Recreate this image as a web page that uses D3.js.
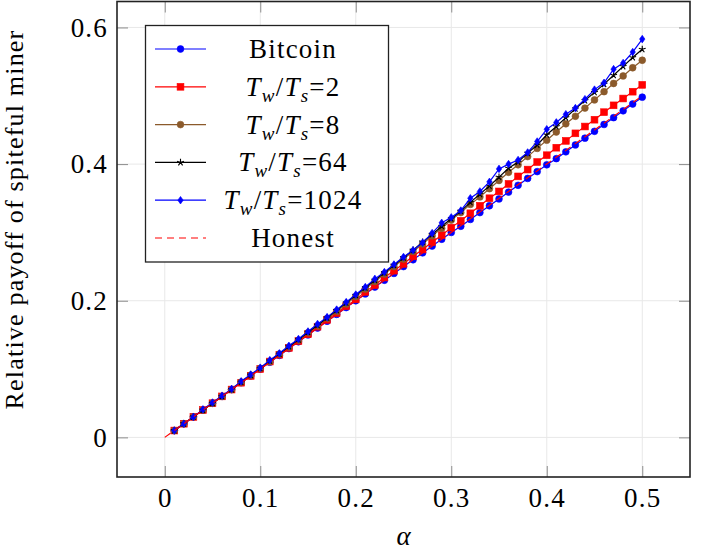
<!DOCTYPE html>
<html>
<head>
<meta charset="utf-8">
<script src="https://cdn.jsdelivr.net/npm/d3@7"></script>
<style>
body { margin: 0; background: #fff; }
text { font-family: "Liberation Serif", "DejaVu Serif", serif; fill: #000; }
</style>
</head>
<body>
<svg id="chart" width="707" height="554"></svg>
<script>
// values (alpha on x, relative payoff on y)
var alphas = [0.01,0.02,0.03,0.04,0.05,0.06,0.07,0.08,0.09,0.10,
              0.11,0.12,0.13,0.14,0.15,0.16,0.17,0.18,0.19,0.20,
              0.21,0.22,0.23,0.24,0.25,0.26,0.27,0.28,0.29,0.30,
              0.31,0.32,0.33,0.34,0.35,0.36,0.37,0.38,0.39,0.40,
              0.41,0.42,0.43,0.44,0.45,0.46,0.47,0.48,0.49,0.50];
var bitcoin = [0.010,0.020,0.030,0.040,0.050,0.060,0.070,0.080,0.090,0.100,
               0.110,0.120,0.130,0.140,0.150,0.160,0.170,0.180,0.190,0.200,
               0.210,0.220,0.230,0.240,0.250,0.260,0.270,0.280,0.290,0.300,
               0.309,0.319,0.329,0.339,0.349,0.359,0.369,0.379,0.389,0.399,
               0.408,0.418,0.428,0.438,0.448,0.458,0.468,0.478,0.488,0.498];
var ratio2 = [0.010,0.020,0.030,0.040,0.050,0.060,0.070,0.080,0.090,0.100,
              0.111,0.121,0.131,0.141,0.151,0.162,0.172,0.182,0.192,0.202,
              0.213,0.223,0.234,0.244,0.254,0.265,0.275,0.286,0.296,0.307,
              0.317,0.328,0.339,0.350,0.360,0.371,0.382,0.392,0.403,0.413,
              0.424,0.434,0.445,0.455,0.465,0.476,0.486,0.496,0.506,0.516];
var ratio8 = [0.010,0.020,0.030,0.040,0.050,0.060,0.070,0.081,0.091,0.101,
              0.111,0.122,0.132,0.142,0.153,0.163,0.174,0.184,0.195,0.206,
              0.217,0.228,0.239,0.250,0.261,0.272,0.283,0.295,0.306,0.318,
              0.329,0.341,0.352,0.364,0.376,0.388,0.399,0.411,0.423,0.435,
              0.447,0.459,0.470,0.482,0.494,0.506,0.518,0.529,0.541,0.552];
var ratio64 = [0.010,0.020,0.030,0.040,0.050,0.060,0.070,0.081,0.091,0.101,
               0.112,0.122,0.133,0.143,0.154,0.164,0.175,0.186,0.197,0.208,
               0.219,0.230,0.241,0.252,0.263,0.274,0.286,0.297,0.309,0.320,
               0.331,0.344,0.356,0.368,0.381,0.394,0.403,0.416,0.428,0.443,
               0.455,0.468,0.481,0.493,0.505,0.517,0.530,0.543,0.556,0.568];
var ratio1024 = [0.010,0.020,0.030,0.041,0.051,0.061,0.071,0.082,0.092,0.102,
                 0.113,0.123,0.134,0.144,0.155,0.166,0.176,0.187,0.198,0.209,
                 0.220,0.232,0.242,0.253,0.264,0.274,0.285,0.299,0.314,0.322,
                 0.332,0.350,0.360,0.374,0.393,0.400,0.406,0.417,0.433,0.451,
                 0.461,0.473,0.482,0.495,0.509,0.519,0.539,0.548,0.564,0.583];
var honestX = [0, 0.5];
var honestY = [0, 0.5];

var xTicks = [0, 0.1, 0.2, 0.3, 0.4, 0.5];
var yTicks = [0, 0.2, 0.4, 0.6];
var seriesNames = ["Bitcoin", "T_w/T_s=2", "T_w/T_s=8", "T_w/T_s=64", "T_w/T_s=1024", "Honest"];

var series = [
  {name: seriesNames[0], values: bitcoin, color: "#0000ff", mark: "circle"},
  {name: seriesNames[1], values: ratio2, color: "#ff0000", mark: "square"},
  {name: seriesNames[2], values: ratio8, color: "#8b5a2b", mark: "circle"},
  {name: seriesNames[3], values: ratio64, color: "#000000", mark: "star"},
  {name: seriesNames[4], values: ratio1024, color: "#0000ff", mark: "diamond"}
];

var serifFont = "'Liberation Serif', 'DejaVu Serif', serif";
var plot = {left: 117, right: 690, top: 1.5, bottom: 477};

var svg = d3.select("#chart");

var x = d3.scaleLinear().domain([-0.05, 0.55]).range([plot.left, plot.right]);
var y = d3.scaleLinear().domain([-0.058, 0.638]).range([plot.bottom, plot.top]);

// grid
var grid = svg.append("g");
grid.selectAll("line.gx")
  .data(xTicks)
  .enter().append("line")
  .attr("x1", function(d) { return x(d); })
  .attr("x2", function(d) { return x(d); })
  .attr("y1", plot.top)
  .attr("y2", plot.bottom)
  .attr("stroke", "#e8e8e8");
grid.selectAll("line.gy")
  .data(yTicks)
  .enter().append("line")
  .attr("x1", plot.left)
  .attr("x2", plot.right)
  .attr("y1", function(d) { return y(d); })
  .attr("y2", function(d) { return y(d); })
  .attr("stroke", "#e8e8e8");

var fmt = d3.format("~g");

function styleAxis(g) {
  g.select(".domain").remove();
  g.selectAll(".tick line").attr("stroke", "#8c8c8c");
  g.attr("font-family", null).attr("font-size", 27);
  g.selectAll(".tick text").attr("fill", "#000")
    .style("font-family", serifFont).style("letter-spacing", "1.2px");
}

svg.append("g")
  .attr("transform", "translate(0," + plot.bottom + ")")
  .call(d3.axisBottom(x).tickValues(xTicks).tickFormat(fmt).tickSizeInner(-11).tickSizeOuter(0).tickPadding(11))
  .call(styleAxis);
svg.append("g")
  .attr("transform", "translate(0," + plot.top + ")")
  .call(d3.axisTop(x).tickValues(xTicks).tickFormat("").tickSizeInner(-11).tickSizeOuter(0))
  .call(styleAxis);
svg.append("g")
  .attr("transform", "translate(" + plot.left + ",0)")
  .call(d3.axisLeft(y).tickValues(yTicks).tickFormat(fmt).tickSizeInner(-11).tickSizeOuter(0).tickPadding(9))
  .call(styleAxis);
svg.append("g")
  .attr("transform", "translate(" + plot.right + ",0)")
  .call(d3.axisRight(y).tickValues(yTicks).tickFormat("").tickSizeInner(-11).tickSizeOuter(0))
  .call(styleAxis);

// frame
svg.append("rect")
  .attr("x", plot.left)
  .attr("y", plot.top)
  .attr("width", plot.right - plot.left)
  .attr("height", plot.bottom - plot.top)
  .attr("fill", "none")
  .attr("stroke", "#222")
  .attr("stroke-width", 1.6);

// markers
function drawMark(g, type, color, cx, cy) {
  if (type == "circle") {
    g.append("circle").attr("cx", cx).attr("cy", cy).attr("r", 3.4)
      .attr("fill", color).attr("stroke", color).attr("stroke-width", 0.6);
  } else if (type == "square") {
    g.append("rect").attr("x", cx - 3.4).attr("y", cy - 3.4).attr("width", 6.8).attr("height", 6.8)
      .attr("fill", color).attr("stroke", color).attr("stroke-width", 0.6);
  } else if (type == "diamond") {
    g.append("path")
      .attr("d", "M" + cx + "," + (cy - 3.8) + "L" + (cx + 2.7) + "," + cy + "L" + cx + "," + (cy + 3.8) + "L" + (cx - 2.7) + "," + cy + "Z")
      .attr("fill", color).attr("stroke", color).attr("stroke-width", 0.6);
  } else if (type == "star") {
    var p = "";
    for (var k = 0; k < 5; k++) {
      var a = -Math.PI / 2 + k * 2 * Math.PI / 5;
      p += "M" + cx + "," + cy + "l" + (3.6 * Math.cos(a)) + "," + (3.6 * Math.sin(a));
    }
    g.append("path").attr("d", p).attr("fill", "none").attr("stroke", color).attr("stroke-width", 1.1);
  }
}

var line = d3.line()
  .x(function(d) { return x(d[0]); })
  .y(function(d) { return y(d[1]); });

var plots = svg.append("g");
series.forEach(function(s) {
  var pts = alphas.map(function(a, i) { return [a, s.values[i]]; });
  var g = plots.append("g");
  g.append("path")
    .attr("d", line(pts))
    .attr("fill", "none")
    .attr("stroke", s.color)
    .attr("stroke-width", 1.2);
  pts.forEach(function(p) { drawMark(g, s.mark, s.color, x(p[0]), y(p[1])); });
});

plots.append("path")
  .attr("d", line(honestX.map(function(a, i) { return [a, honestY[i]]; })))
  .attr("fill", "none")
  .attr("stroke", "#ff0000")
  .attr("stroke-width", 1.2)
  .attr("stroke-dasharray", "7,5");

// legend
var legend = svg.append("g");
legend.append("rect")
  .attr("x", 145.5).attr("y", 25.5).attr("width", 243).attr("height", 236.5)
  .attr("fill", "#fff").attr("stroke", "#222").attr("stroke-width", 1.3);

var rowY = d3.scaleLinear().domain([0, 5]).range([49, 238]);

function labelText(t, name) {
  var m = name.match(/^T_w\/T_s(=.*)$/);
  if (!m) { t.text(name); return; }
  t.append("tspan").style("font-style", "italic").text("T");
  t.append("tspan").style("font-style", "italic").attr("font-size", 19).attr("dy", 6).text("w");
  t.append("tspan").attr("dy", -6).text("/");
  t.append("tspan").style("font-style", "italic").text("T");
  t.append("tspan").style("font-style", "italic").attr("font-size", 19).attr("dy", 6).text("s");
  t.append("tspan").attr("dy", -6).text(m[1]);
}

seriesNames.forEach(function(name, i) {
  var cy = rowY(i);
  var color = i < series.length ? series[i].color : "#ff0000";
  var ln = legend.append("line")
    .attr("x1", 155).attr("x2", 206).attr("y1", cy).attr("y2", cy)
    .attr("stroke", color).attr("stroke-width", 1.2);
  if (i < series.length) {
    drawMark(legend, series[i].mark, color, 180.5, cy);
  } else {
    ln.attr("stroke-dasharray", "7,5");
  }
  var t = legend.append("text")
    .attr("x", 293).attr("y", cy + 9)
    .attr("text-anchor", "middle")
    .attr("font-size", 27)
    .style("font-family", serifFont)
    .style("letter-spacing", "1.2px");
  labelText(t, name);
});

// axis labels
svg.append("text")
  .attr("x", (plot.left + plot.right) / 2)
  .attr("y", 545)
  .attr("text-anchor", "middle")
  .attr("font-size", 27)
  .style("font-family", serifFont)
  .style("font-style", "italic")
  .text("α");

svg.append("text")
  .attr("transform", "translate(23," + 219.5 + ") rotate(-90)")
  .attr("text-anchor", "middle")
  .attr("font-size", 26)
  .style("font-family", serifFont)
  .style("letter-spacing", "1.2px")
  .text("Relative payoff of spiteful miner");
</script>
</body>
</html>
